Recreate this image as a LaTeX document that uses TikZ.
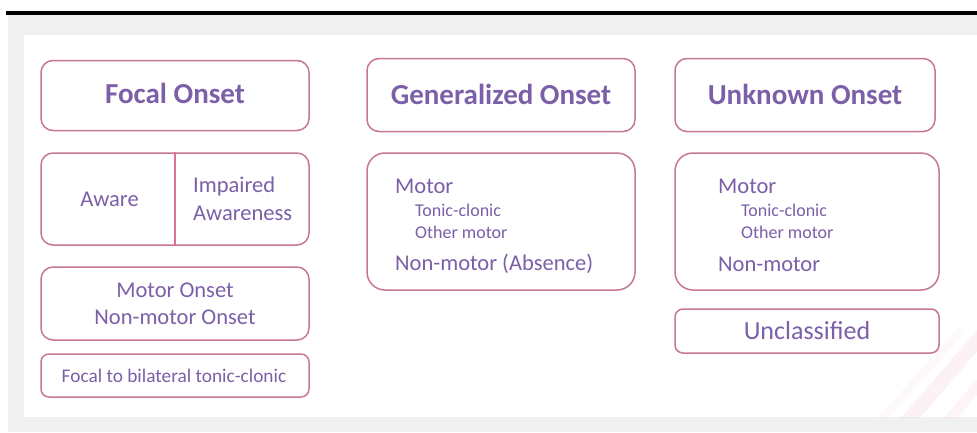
\documentclass[tikz,border=0pt]{standalone}
\usepackage{fontspec}
\setmainfont{Carlito}
\definecolor{frame}{HTML}{C6788D}
\definecolor{split}{HTML}{E0708F}
\definecolor{ink}{HTML}{7B5FA8}
\definecolor{panelgray}{HTML}{F0F0F0}
\definecolor{stripe}{HTML}{F4C9D2}
\tikzset{
  box/.style={draw=frame, line width=1.5pt, rounded corners=12pt, fill=white, inner sep=0pt},
  smallbox/.style={box, rounded corners=8pt},
  head/.style={text=ink, font=\fontsize{29}{32}\selectfont\bfseries, inner sep=0pt},
  body/.style={text=ink, font=\fontsize{22.5}{27}\selectfont, inner sep=0pt},
  sub/.style={text=ink, font=\fontsize{18}{21}\selectfont, inner sep=0pt},
}
\begin{document}
\begin{tikzpicture}[x=1pt,y=-1pt]
\useasboundingbox (0,0) rectangle (977,432);
% page background, rule and panel
\fill[white] (0,0) rectangle (977,432);
\fill[black] (6,11) rectangle (977,15);
\fill[panelgray] (8,15) rectangle (977,432);
\fill[white] (24,35) rectangle (977,417);
% faint corner stripes
\begin{scope}
  \clip (860,300) rectangle (977,417);
  \draw[stripe, opacity=0.25, line width=14pt] (900,430) -- (995,320);
  \draw[stripe, opacity=0.2, line width=10pt] (940,430) -- (1005,355);
  \draw[stripe, opacity=0.12, line width=8pt] (872,430) -- (962,330);
\end{scope}

% ---- Focal onset column ----
\node[box, minimum width=268pt, minimum height=70pt] (focal) at (175,95.5) {};
\node[head, anchor=base] (focalT) at (175,103.5) {Focal Onset};

\node[box, minimum width=268pt, minimum height=92pt] (aware) at (175,199) {};
\draw[split, line width=1.4pt] (aware.north) -- (aware.south);
\node[body, anchor=base] (awareT) at (109.5,206) {Aware};
\node[body, anchor=base west] (impT) at (193,192) {Impaired};
\node[body, anchor=base west] (impT2) at (193,220) {Awareness};

\node[box, minimum width=268pt, minimum height=73pt] (motor) at (175,303.5) {};
\node[body, anchor=base] (motT) at (175,297) {Motor Onset};
\node[body, anchor=base] (motT2) at (175,324) {Non-motor Onset};

\node[smallbox, minimum width=268pt, minimum height=43pt] (bilat) at (175,375.5) {};
\node[text=ink, font=\fontsize{19.3}{22}\selectfont, inner sep=0pt, anchor=base] (bilatT) at (174,382) {Focal to bilateral tonic-clonic};

% ---- Generalized onset column ----
\node[box, minimum width=268pt, minimum height=73pt] (gen) at (501,95) {};
\node[head, anchor=base] (genT) at (501,104) {Generalized Onset};

\node[box, rounded corners=18pt, minimum width=268pt, minimum height=137pt] (genB) at (501,221.5) {};
\node[body, anchor=base west] (genM) at (395,193) {Motor};
\node[sub, anchor=base west] (genTC) at (415,216) {Tonic-clonic};
\node[sub, anchor=base west] (genOM) at (415,238) {Other motor};
\node[body, anchor=base west] (genNM) at (395,270) {Non-motor (Absence)};

% ---- Unknown onset column ----
\node[box, minimum width=260pt, minimum height=73pt] (unk) at (805,95) {};
\node[head, anchor=base] (unkT) at (805,104) {Unknown Onset};

\node[box, rounded corners=18pt, minimum width=264pt, minimum height=137pt] (unkB) at (807,221.5) {};
\node[body, anchor=base west] (unkM) at (718,193) {Motor};
\node[sub, anchor=base west] (unkTC) at (741,216) {Tonic-clonic};
\node[sub, anchor=base west] (unkOM) at (741,238) {Other motor};
\node[body, anchor=base west] (unkNM) at (718,271) {Non-motor};

\node[smallbox, minimum width=264pt, minimum height=44pt] (uncl) at (807,331) {};
\node[text=ink, font=\fontsize{26}{30}\selectfont, inner sep=0pt, anchor=base] (unclT) at (807,339) {Unclassified};
\end{tikzpicture}
\end{document}
